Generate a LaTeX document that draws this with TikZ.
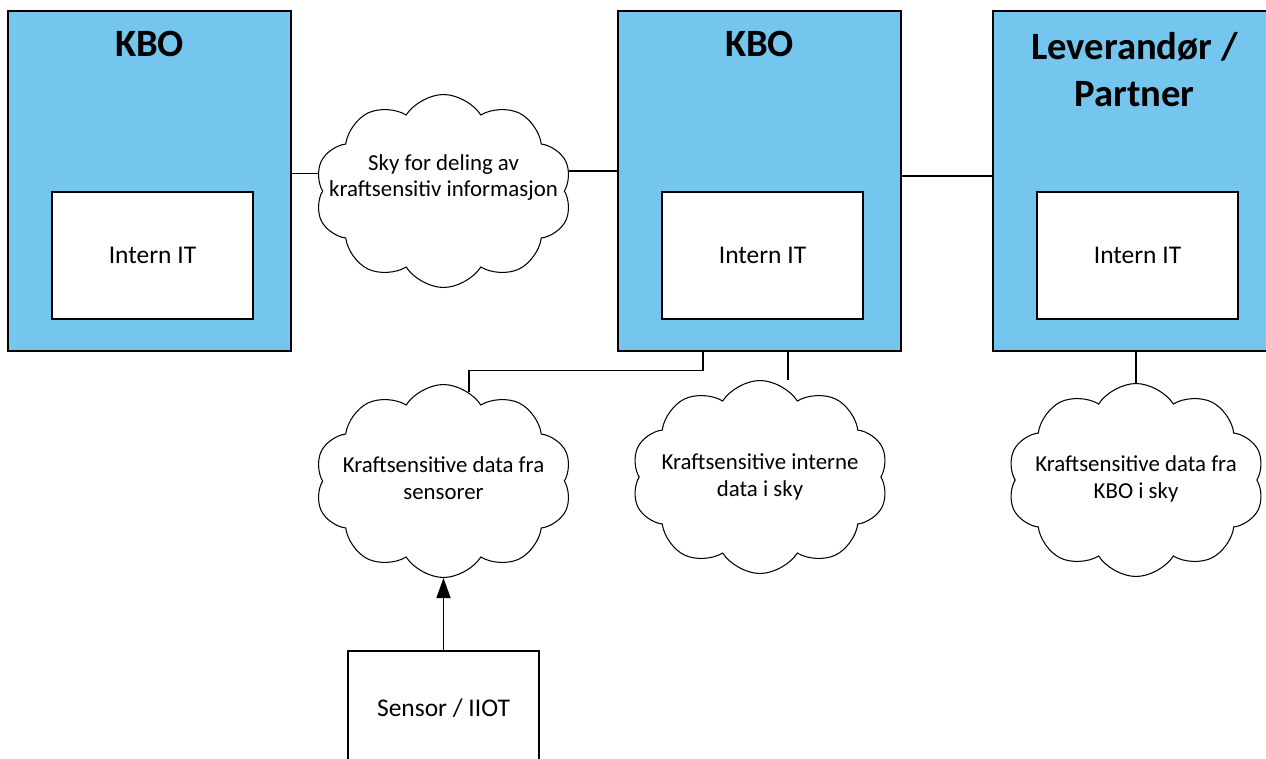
\documentclass[tikz,border=0pt]{standalone}
\usepackage{fontspec}
\setmainfont{Carlito}
\usetikzlibrary{shapes.symbols,arrows.meta,positioning}
\definecolor{kboblue}{RGB}{116,198,238}
\tikzset{orgbox/.style={draw, fill=kboblue, line width=0.8pt,
  minimum width=5.66cm, minimum height=6.8cm}}
\tikzset{itbox/.style={draw, fill=white, line width=0.8pt,
  minimum width=4.02cm, minimum height=2.54cm,
  font=\fontsize{14.5}{17}\selectfont}}
\tikzset{orgtitle/.style={font=\bfseries\fontsize{22}{26.5}\selectfont, align=center}}
\tikzset{datacloud/.style={draw, cloud, cloud puffs=10, cloud puff arc=115,
  cloud ignores aspect, fill=white, line width=0.6pt,
  minimum width=5.14cm, minimum height=3.86cm, inner sep=0pt}}
\tikzset{cloudtext/.style={align=center, font=\fontsize{13}{15.3}\selectfont}}
\tikzset{link/.style={line width=0.8pt}}

\begin{document}
\begin{tikzpicture}[x=0.02cm, y=-0.02cm]
\useasboundingbox (0,0) rectangle (1266,758);
\clip (0,0) rectangle (1266,758);

% organisations
\node[orgbox] (kboA) at (149.5,181) {};
\node[orgtitle] (kboAtitle) at ([yshift=-0.68cm]kboA.north) {KBO};
\node[itbox] (itA) at ([xshift=0.06cm,yshift=-1.49cm]kboA.center) {Intern IT};

\node[orgbox] (kboB) at (759.5,181) {};
\node[orgtitle] (kboBtitle) at ([yshift=-0.68cm]kboB.north) {KBO};
\node[itbox] (itB) at ([xshift=0.06cm,yshift=-1.49cm]kboB.center) {Intern IT};

\node[orgbox] (partner) at (1134.5,181) {};
\node[orgtitle] (partnertitle) at ([yshift=-1.18cm]partner.north) {Leverandør /\\Partner};
\node[itbox] (itC) at ([xshift=0.06cm,yshift=-1.49cm]partner.center) {Intern IT};

% clouds
\node[datacloud] (skyShare) at (443.5,191) {};
\node[cloudtext] (skyShareText) at ([yshift=0.27cm]skyShare.center) {Sky for deling av\\kraftsensitiv informasjon};
\node[datacloud] (sensData) at (443.5,481) {};
\node[cloudtext] (sensDataText) at ([yshift=0.05cm]sensData.center) {Kraftsensitive data fra\\sensorer};
\node[datacloud] (intData) at (760,477) {};
\node[cloudtext] (intDataText) at (intData.center) {Kraftsensitive interne\\data i sky};
\node[datacloud] (kboData) at (1136,480) {};
\node[cloudtext] (kboDataText) at ([yshift=0.02cm]kboData.center) {Kraftsensitive data fra\\KBO i sky};

\node[draw, line width=0.8pt, minimum width=3.82cm, minimum height=2.28cm,
  font=\fontsize{14.5}{17}\selectfont] (sensor) at (443.5,708) {Sensor / IIOT};

% connectors
\draw[link] (kboA.east |- skyShare.172) -- (skyShare.172);
\draw[link] (skyShare.9) -- (kboB.west |- skyShare.9);
\draw[link] ([yshift=0.1cm]kboB.east) -- ([yshift=0.1cm]partner.west);
\draw[link] ([xshift=-1.13cm]kboB.south) -- ++(0,19) -| (sensData.74);
\draw[link] ([xshift=0.57cm]kboB.south) -- ([xshift=0.57cm]kboB.south |- intData.north);
\draw[link] (kboData.north |- partner.south) -- (kboData.north);
\draw[link, -{Triangle[length=0.4cm, width=0.28cm]}] (sensor.north) -- (sensData.south);
\end{tikzpicture}
\end{document}
